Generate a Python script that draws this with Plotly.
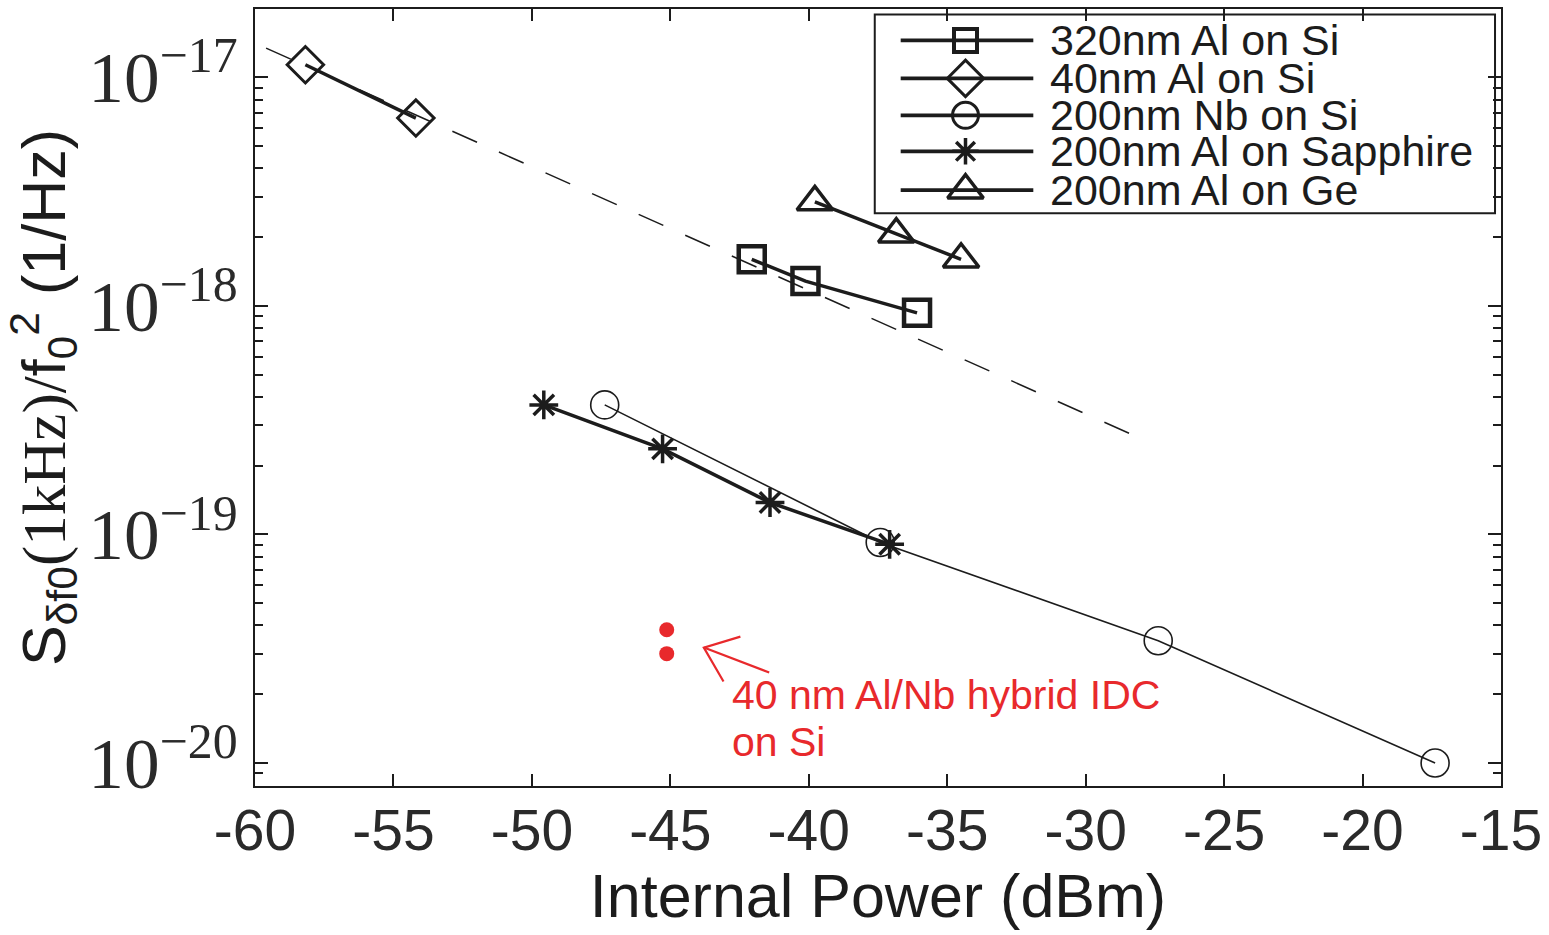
import plotly.graph_objects as go

# ---------------- data ----------------
al320_si_x = [-42.06, -40.12, -36.09]
al320_si_y = [1.60e-18, 1.285e-18, 9.33e-19]

al40_si_x = [-58.18, -54.19]
al40_si_y = [1.136e-17, 6.64e-18]

nb200_si_x = [-47.37, -37.42, -27.38, -17.38]
nb200_si_y = [3.69e-19, 9.23e-20, 3.43e-20, 1.0e-20]

al200_sapph_x = [-49.57, -45.28, -41.40, -37.08]
al200_sapph_y = [3.69e-19, 2.37e-19, 1.38e-19, 9.06e-20]

al200_ge_x = [-39.78, -36.84, -34.50]
al200_ge_y = [2.85e-18, 2.06e-18, 1.60e-18]

fit_x = [-59.6, -28.13]
fit_y = [1.343e-17, 2.67e-19]

hybrid_x = [-45.13, -45.13]
hybrid_y = [3.83e-20, 3.01e-20]

series_names = ["320nm Al on Si", "40nm Al on Si", "200nm Nb on Si",
                "200nm Al on Sapphire", "200nm Al on Ge"]
hybrid_label_lines = ["40 nm Al/Nb hybrid IDC", "on Si"]

x_ticks = [-60, -55, -50, -45, -40, -35, -30, -25, -20, -15]

# hand-drawn red arrow (x in dBm, y in S units): upper arm, tip, lower arm / tip, tail
arrow_x = [-42.47, -43.79, -43.08, None, -43.79, -41.43]
arrow_y = [3.575e-20, 3.20e-20, 2.275e-20, None, 3.20e-20, 2.49e-20]

# ---------------- styling ----------------
INK = "#1c1c1c"
RED = "#e8292c"
SANS = "Liberation Sans, Arial, sans-serif"
SERIF = "Liberation Serif, Times New Roman, serif"

styles = [
    dict(symbol="square-open", size=26, mlw=4.5, lw=3.5, leg_size=23, leg_mlw=4),
    dict(symbol="diamond-open", size=28, mlw=3, lw=3.5, leg_size=28, leg_mlw=3),
    dict(symbol="circle-open", size=28, mlw=1.6, lw=1.6, leg_size=26, leg_mlw=3),
    dict(symbol="asterisk-open", size=24, mlw=3.5, lw=3.5, leg_size=22, leg_mlw=3.5),
    dict(symbol="triangle-up-open", size=31, mlw=3.5, lw=3.5, leg_size=31, leg_mlw=3.5),
]
series = [
    (al320_si_x, al320_si_y),
    (al40_si_x, al40_si_y),
    (nb200_si_x, nb200_si_y),
    (al200_sapph_x, al200_sapph_y),
    (al200_ge_x, al200_ge_y),
]

fig = go.Figure()

# dashed guide line
fig.add_trace(go.Scatter(x=fit_x, y=fit_y, mode="lines",
                         line=dict(color=INK, width=1.5, dash="27px,24px"),
                         showlegend=False, hoverinfo="skip"))

for name, (xs, ys), st in zip(series_names, series, styles):
    fig.add_trace(go.Scatter(
        x=xs, y=ys, mode="lines+markers", name=name, showlegend=False,
        line=dict(color=INK, width=st["lw"]),
        marker=dict(symbol=st["symbol"], size=st["size"], color=INK,
                    line=dict(color=INK, width=st["mlw"])),
    ))

fig.add_trace(go.Scatter(x=hybrid_x, y=hybrid_y, mode="markers",
                         name="40 nm Al/Nb hybrid IDC on Si", showlegend=False,
                         marker=dict(color=RED, size=15)))

fig.add_trace(go.Scatter(x=arrow_x, y=arrow_y, mode="lines", showlegend=False,
                         hoverinfo="skip", line=dict(color=RED, width=2.2)))

# ---------------- legend drawn on an overlay axis in pixel-like units ----------------
LEG_BOX = dict(x0=877, x1=1499, y0=13, y1=212)
LEG_ROWS = [39, 77, 114, 150, 189]
LEG_LINE = (903, 1036)
LEG_MARK_X = 968
LEG_TEXT_X = 1051

for name, st, ry in zip(series_names, styles, LEG_ROWS):
    fig.add_trace(go.Scatter(
        x=[LEG_LINE[0], LEG_MARK_X, LEG_LINE[1]], y=[ry, ry, ry],
        xaxis="x2", yaxis="y2", mode="lines", showlegend=False, hoverinfo="skip",
        line=dict(color=INK, width=3.8)))
    fig.add_trace(go.Scatter(
        x=[LEG_MARK_X], y=[ry], xaxis="x2", yaxis="y2", mode="markers",
        showlegend=False, hoverinfo="skip",
        marker=dict(symbol=st["symbol"], size=st["leg_size"], color=INK,
                    line=dict(color=INK, width=st["leg_mlw"]))))
    fig.add_annotation(x=LEG_TEXT_X, y=ry, xref="x2", yref="y2", text=name,
                       showarrow=False, xanchor="left", yanchor="middle",
                       font=dict(family=SANS, size=43, color=INK))

fig.add_shape(type="rect", xref="x2", yref="y2",
              x0=LEG_BOX["x0"], x1=LEG_BOX["x1"], y0=LEG_BOX["y0"], y1=LEG_BOX["y1"],
              line=dict(color=INK, width=2), fillcolor="rgba(0,0,0,0)", layer="below")

# ---------------- red text ----------------
fig.add_annotation(x=-42.85, y=-19.704, xref="x", yref="y", text=hybrid_label_lines[0],
                   showarrow=False, xanchor="left", yanchor="middle",
                   font=dict(family=SANS, size=41, color=RED))
fig.add_annotation(x=-42.85, y=-19.910, xref="x", yref="y", text=hybrid_label_lines[1],
                   showarrow=False, xanchor="left", yanchor="middle",
                   font=dict(family=SANS, size=41, color=RED))

ytitle = ("S<sub>δf0</sub><span style='font-family:Liberation Serif'>(1kHz)/</span>"
          "f<sub>0</sub><sup>2</sup> (1/Hz)")

fig.update_layout(
    width=1549, height=935,
    margin=dict(l=255, r=44, t=7, b=149),
    paper_bgcolor="white", plot_bgcolor="white",
    showlegend=False,
    xaxis=dict(range=[-60, -15], tickvals=x_ticks, ticktext=[str(v) for v in x_ticks],
               showline=True, linecolor=INK, linewidth=2, mirror="ticks",
               ticks="inside", ticklen=12, tickwidth=1.5, tickcolor=INK,
               showgrid=False, zeroline=False,
               tickfont=dict(family=SANS, size=57, color="#2a2a2a"),
               ticklabelstandoff=-6,
               title=dict(text="Internal Power (dBm)", standoff=2,
                          font=dict(family=SANS, size=61, color=INK))),
    yaxis=dict(type="log", range=[-20.1005, -16.7007], dtick=1,
               exponentformat="power", showexponent="all",
               showline=True, linecolor=INK, linewidth=2, mirror="ticks",
               ticks="inside", ticklen=13, tickwidth=1.5, tickcolor=INK,
               minor=dict(ticks="inside", ticklen=8, tickwidth=1.5, tickcolor=INK,
                          dtick="D1", showgrid=False),
               showgrid=False, zeroline=False,
               tickfont=dict(family=SERIF, size=57, color="#2a2a2a"),
               ticklabelstandoff=4,
               title=dict(text=ytitle, standoff=12,
                          font=dict(family=SANS, size=61, color=INK))),
    xaxis2=dict(overlaying="x", range=[255.5, 1505], visible=False,
                showticklabels=False, fixedrange=True),
    yaxis2=dict(overlaying="y", range=[785.7, 7.5], visible=False,
                showticklabels=False, fixedrange=True),
)

fig.write_html("out.html")
